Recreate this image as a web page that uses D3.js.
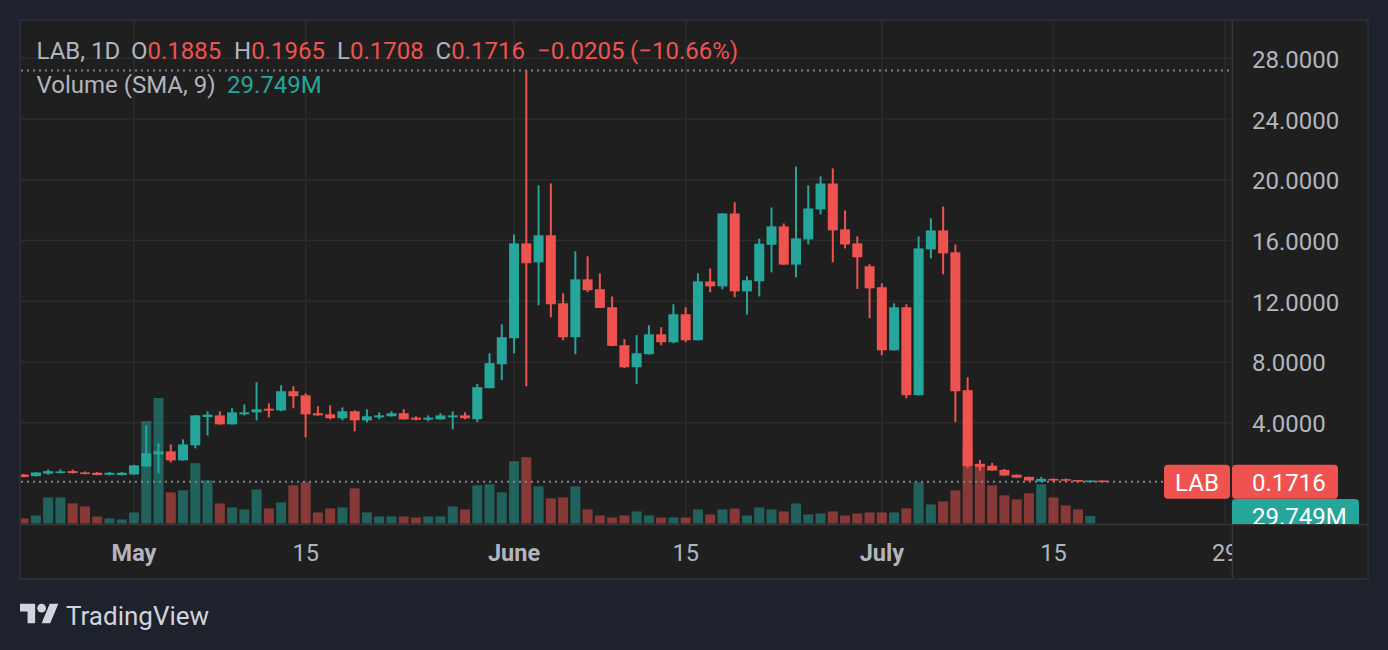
<!DOCTYPE html>
<html><head><meta charset="utf-8">
<script src="https://cdn.jsdelivr.net/npm/d3@7"></script>
<style>
html,body{margin:0;padding:0;background:#1e222d;overflow:hidden;}
svg{display:block;font-family:Roboto,"Noto Sans",sans-serif;}
</style></head><body>
<svg id="c" width="1388" height="650"></svg>
<script>
// ---- data ----
const firstDay = "2024-04-22";
const lastDay = "2024-07-19";
const open = [0.59,0.48,0.64,0.68,0.81,0.72,0.70,0.57,0.55,
  0.59,1.12,1.91,2.11,1.52,2.51,4.37,4.48,3.89,4.55,4.68,4.92,4.81,6.07,5.80,4.62,4.55,4.29,4.75,4.15,4.35,4.42,4.62,4.33,4.20,4.22,4.35,4.48,4.23,6.27,7.85,
  9.56,15.81,14.56,16.34,11.86,9.63,13.44,12.79,11.60,9.10,7.65,8.51,9.82,9.30,11.14,9.43,13.30,12.98,17.78,12.65,13.31,15.72,16.93,14.41,16.07,18.05,19.75,16.73,15.81,14.30,
  12.92,8.77,11.60,5.81,15.41,16.66,15.22,6.14,1.29,1.16,0.89,0.57,0.43,0.12,0.30,0.28,0.22,0.1900,0.1885];
const high = [0.62,0.74,0.92,0.92,0.92,0.79,0.75,0.75,0.75,
  1.22,3.82,2.64,2.57,2.90,4.50,4.75,4.75,4.95,5.21,6.66,5.27,6.46,6.40,5.93,5.08,5.14,5.01,4.81,4.88,4.68,4.75,4.88,4.42,4.48,4.62,4.75,4.68,6.54,8.57,10.48,
  16.40,27.19,19.63,19.76,12.52,15.29,14.96,13.84,12.32,9.50,9.76,10.42,10.29,11.80,11.60,13.84,14.16,17.80,18.51,13.64,16.12,18.18,17.12,20.87,19.63,20.22,20.75,17.98,16.27,14.43,
  13.18,11.86,11.80,16.27,17.46,18.24,15.74,6.99,1.55,1.35,0.96,0.59,0.45,0.43,0.32,0.32,0.23,0.2000,0.1965];
const low = [0.40,0.46,0.57,0.66,0.66,0.60,0.53,0.53,0.53,
  0.57,1.08,0.66,1.38,1.50,2.31,3.16,3.87,3.87,4.48,4.15,4.35,4.75,4.95,3.03,4.46,4.22,4.15,3.43,4.02,4.22,4.40,4.20,4.15,4.09,4.20,3.56,4.22,4.04,6.27,6.80,
  8.57,6.40,11.73,10.94,9.43,8.51,12.59,11.54,9.04,7.59,6.54,8.49,9.10,9.23,9.30,9.41,12.59,12.78,12.26,11.12,12.32,13.90,14.39,13.57,15.74,17.72,14.56,15.48,12.81,10.88,
  8.44,8.75,5.61,5.79,14.82,13.77,4.04,1.00,0.83,0.83,0.50,0.37,0.17,0.10,0.10,0.15,0.18,0.1850,0.1708];
const close = [0.42,0.72,0.81,0.79,0.68,0.62,0.55,0.70,0.70,
  1.19,1.98,2.11,1.52,2.57,4.48,4.53,3.89,4.68,4.68,4.88,4.79,6.07,5.74,4.55,4.48,4.29,4.75,4.15,4.42,4.48,4.62,4.22,4.20,4.33,4.48,4.48,4.29,6.34,7.92,9.63,
  15.81,14.50,16.34,11.80,9.63,13.44,12.72,11.56,9.06,7.65,8.57,9.82,9.30,11.14,9.43,13.31,12.98,17.78,12.65,13.38,15.79,16.93,14.41,16.14,18.11,19.75,16.67,15.74,14.89,12.85,
  8.77,11.60,5.81,15.48,16.66,15.15,6.07,1.14,1.09,0.85,0.52,0.38,0.19,0.30,0.19,0.20,0.19,0.1921,0.1716];
// volume in millions
const volume = [20,32,104,104,80,68,28,20,16,
  44,408,500,124,132,240,172,80,64,56,136,60,84,152,164,44,60,64,140,44,28,28,28,24,28,28,68,56,152,156,124,
  248,264,148,100,104,148,56,32,24,32,48,32,24,24,24,56,36,56,60,32,64,56,48,80,36,40,48,32,40,44,
  44,44,60,164,76,88,132,308,236,152,112,96,120,156,104,72,56,29.749,0];
const priceTicks = [4,8,12,16,20,24,28];
const timeTicks = ["2024-05-01","2024-05-15","2024-06-01","2024-06-15","2024-07-01","2024-07-15","2024-07-29"];
const timeTickLabels = ["May","15","June","15","July","15","29"];
const symbol = "LAB";
const lastChange = -0.0205;
const lastChangePct = -10.66;
const lastVolumeLabel = "29.749M";

// ---- setup ----
const UP = "#26a69a", DOWN = "#ef5350";
const parse = d3.utcParse("%Y-%m-%d");
const dates = d3.utcDay.range(parse(firstDay), d3.utcDay.offset(parse(lastDay), 1));
const data = dates.map((d, i) => ({d, o: open[i], h: high[i], l: low[i], c: close[i], v: volume[i]}));

const svg = d3.select("#c");
const L = 21, R = 1232, T = 21, B = 524;

const x = d3.scaleUtc().domain([parse("2024-05-01"), parse("2024-07-29")]).range([134, 1225.1]);
const y = d3.scaleLinear().domain([0, 28]).range([483.4, 58.3]);
const vy = d3.scaleLinear().domain([0, 500]).range([523.5, 398]);

svg.append("rect").attr("width", 1388).attr("height", 650).attr("fill", "#1e222d");
svg.append("rect").attr("x", 20).attr("y", 20).attr("width", 1348).attr("height", 559)
  .attr("fill", "#1f1f1f").attr("stroke", "#2e313c").attr("stroke-width", 1.5);

const defs = svg.append("defs");
defs.append("clipPath").attr("id", "plot").append("rect").attr("x", L).attr("y", T).attr("width", R - L).attr("height", B - T);
defs.append("clipPath").attr("id", "taxis").append("rect").attr("x", L).attr("y", B).attr("width", R - L).attr("height", 54);
defs.append("clipPath").attr("id", "paxis").append("rect").attr("x", R).attr("y", T).attr("width", 1367 - R).attr("height", B - T);

const plot = svg.append("g").attr("clip-path", "url(#plot)");

// grid
plot.append("g").selectAll("line").data(priceTicks).join("line")
  .attr("x1", L).attr("x2", R).attr("y1", d => y(d)).attr("y2", d => y(d))
  .attr("stroke", "#2c2c2c").attr("stroke-width", 1.5);
plot.append("g").selectAll("line").data(timeTicks).join("line")
  .attr("x1", d => x(parse(d))).attr("x2", d => x(parse(d))).attr("y1", T).attr("y2", B)
  .attr("stroke", "#2c2c2c").attr("stroke-width", 1.5);

// volume
plot.append("g").selectAll("rect").data(data).join("rect")
  .attr("x", d => x(d.d) - 5).attr("width", 10)
  .attr("y", d => vy(d.v)).attr("height", d => vy(0) - vy(d.v))
  .attr("fill", d => d.c >= d.o ? UP : DOWN).attr("fill-opacity", 0.5);

// high & last price dotted lines
const maxHigh = d3.max(high);
const last = data[data.length - 1];
plot.append("line").attr("x1", L).attr("x2", R).attr("y1", y(maxHigh)).attr("y2", y(maxHigh))
  .attr("stroke", "#80838e").attr("stroke-width", 2).attr("stroke-dasharray", "2,4");
plot.append("line").attr("x1", L).attr("x2", R).attr("y1", y(last.c) + 1).attr("y2", y(last.c) + 1)
  .attr("stroke", "#80838e").attr("stroke-width", 2).attr("stroke-dasharray", "2,4");

// candles
const cg = plot.append("g");
cg.selectAll("line").data(data).join("line")
  .attr("x1", d => x(d.d)).attr("x2", d => x(d.d))
  .attr("y1", d => y(d.h)).attr("y2", d => y(d.l))
  .attr("stroke", d => d.c >= d.o ? UP : DOWN).attr("stroke-width", 2);
cg.selectAll("rect").data(data).join("rect")
  .attr("x", d => x(d.d) - 5).attr("width", 10)
  .attr("y", d => Math.min(y(d.o), y(d.c)))
  .attr("height", d => Math.max(Math.abs(y(d.o) - y(d.c)), 1.6))
  .attr("fill", d => d.c >= d.o ? UP : DOWN);

// axis separators
svg.append("line").attr("x1", 20).attr("x2", 1368).attr("y1", B + 0.5).attr("y2", B + 0.5)
  .attr("stroke", "#363636").attr("stroke-width", 1.5);
svg.append("line").attr("x1", R + 0.5).attr("x2", R + 0.5).attr("y1", 20).attr("y2", 579)
  .attr("stroke", "#363636").attr("stroke-width", 1.5);

// price axis labels
svg.append("g").attr("clip-path", "url(#paxis)").selectAll("text").data(priceTicks).join("text")
  .attr("x", 1252).attr("y", d => y(d) + 1.5).attr("dominant-baseline", "central")
  .attr("fill", "#b2b5be").attr("font-size", 24).text(d => d3.format(".4f")(d));

// time axis labels
svg.append("g").attr("clip-path", "url(#taxis)").selectAll("text").data(timeTicks).join("text")
  .attr("x", d => x(parse(d))).attr("y", 560.5).attr("text-anchor", "middle")
  .attr("fill", "#b2b5be").attr("font-size", 23.5)
  .attr("font-weight", (d, i) => isNaN(+timeTickLabels[i]) ? 700 : 400)
  .text((d, i) => timeTickLabels[i]);

// last price label
const ly = y(last.c) + 1;
svg.append("rect").attr("x", 1164).attr("y", ly - 17).attr("width", 66).attr("height", 34).attr("rx", 4).attr("fill", DOWN);
svg.append("text").attr("x", 1197).attr("y", ly + 1).attr("text-anchor", "middle").attr("dominant-baseline", "central")
  .attr("fill", "#fff").attr("font-size", 24).text(symbol);
const pax = svg.append("g").attr("clip-path", "url(#paxis)");
pax.append("rect").attr("x", R).attr("y", ly - 17).attr("width", 106).attr("height", 34).attr("rx", 4).attr("fill", DOWN);
pax.append("text").attr("x", 1252).attr("y", ly + 1).attr("dominant-baseline", "central")
  .attr("fill", "#fff").attr("font-size", 24).text(d3.format(".4f")(last.c));
const vly = vy(data[data.length - 2].v);
pax.append("rect").attr("x", R).attr("y", vly - 17).attr("width", 127).attr("height", 34).attr("rx", 4).attr("fill", UP);
pax.append("text").attr("x", 1252).attr("y", vly + 1).attr("dominant-baseline", "central")
  .attr("fill", "#fff").attr("font-size", 24).text(lastVolumeLabel);

// legend
const lc = lastChange >= 0 ? UP : DOWN;
const f4 = d3.format(".4f");
const minus = s => s.replace("-", "\u2212");
const leg = svg.append("text").attr("y", 59).attr("font-size", 24).attr("fill", "#b2b5be");
leg.append("tspan").attr("x", 36.5).text(symbol + ", 1D");
[["O", last.o, 131], ["H", last.h, 234], ["L", last.l, 337], ["C", last.c, 435.5]].forEach(([k, v, px]) => {
  leg.append("tspan").attr("x", px).text(k);
  leg.append("tspan").attr("fill", lc).text(f4(v));
});
leg.append("tspan").attr("x", 537).attr("fill", lc).text(minus(f4(lastChange)));
leg.append("tspan").attr("x", 630).attr("fill", lc).text("(" + minus(d3.format(".2f")(lastChangePct)) + "%)");
const leg2 = svg.append("text").attr("y", 92.5).attr("font-size", 24).attr("fill", "#b2b5be");
leg2.append("tspan").attr("x", 36.5).text("Volume (SMA, 9)");
leg2.append("tspan").attr("x", 227).attr("fill", UP).text(lastVolumeLabel);

// TradingView logo
const logo = svg.append("g").attr("transform", "translate(20,599.5) scale(1.08)").attr("fill", "#d1d4dc");
logo.append("path").attr("d", "M14 22H7V11H0V4h14v18zM28 22h-8l7.5-18h8L28 22z");
logo.append("circle").attr("cx", 20).attr("cy", 8).attr("r", 4);
svg.append("text").attr("x", 66).attr("y", 624.5).attr("font-size", 26).attr("fill", "#d1d4dc").text("TradingView");
</script>
</body></html>
